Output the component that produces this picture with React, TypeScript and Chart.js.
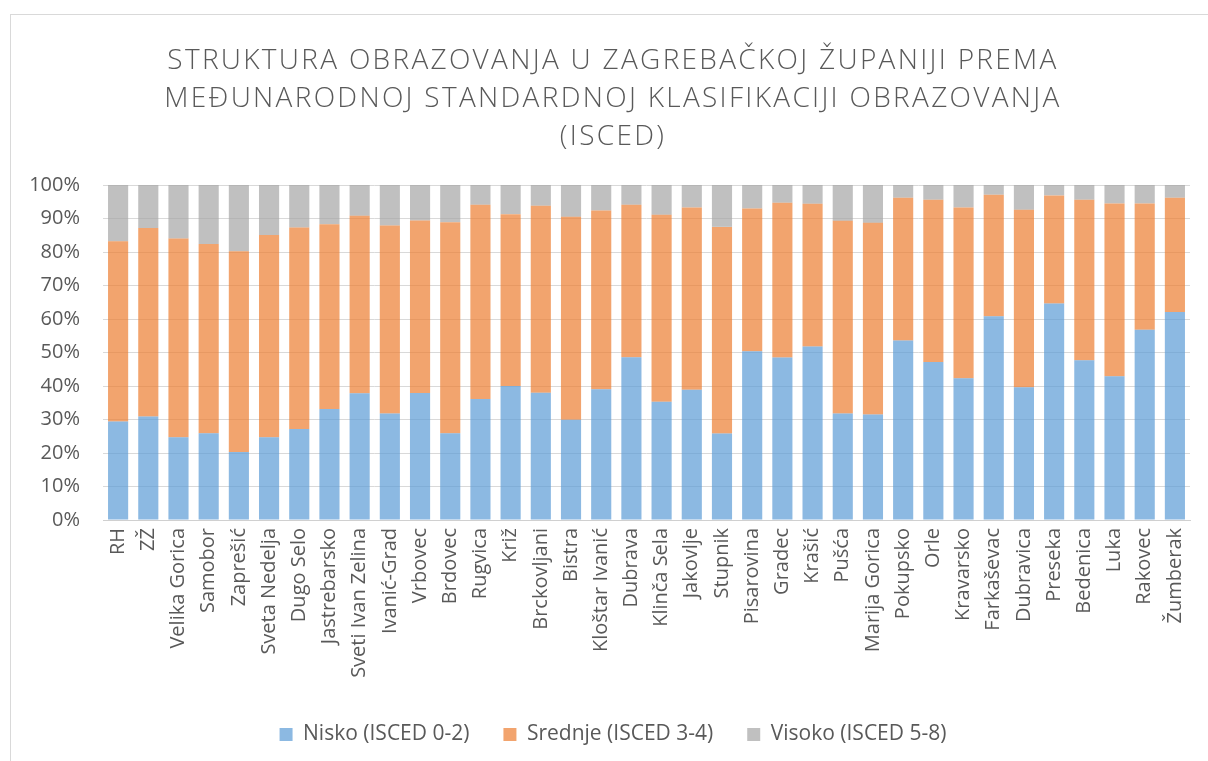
import React, { useEffect, useRef } from "react";
import { Chart, registerables } from "chart.js";

Chart.register(...registerables);

const categories = [
  "RH", "ZŽ", "Velika Gorica", "Samobor", "Zaprešić", "Sveta Nedelja", "Dugo Selo",
  "Jastrebarsko", "Sveti Ivan Zelina", "Ivanić-Grad", "Vrbovec", "Brdovec", "Rugvica",
  "Križ", "Brckovljani", "Bistra", "Kloštar Ivanić", "Dubrava", "Klinča Sela", "Jakovlje",
  "Stupnik", "Pisarovina", "Gradec", "Krašić", "Pušća", "Marija Gorica", "Pokupsko",
  "Orle", "Kravarsko", "Farkaševac", "Dubravica", "Preseka", "Bedenica", "Luka",
  "Rakovec", "Žumberak",
];

const nisko = [
  29.4, 30.9, 24.7, 25.9, 20.3, 24.7, 27.2, 33.1, 37.8, 31.8, 37.9, 25.9, 36.1, 40.0,
  38.0, 29.9, 39.0, 48.6, 35.3, 38.9, 25.8, 50.4, 48.5, 51.8, 31.8, 31.5, 53.6, 47.2,
  42.3, 60.8, 39.6, 64.6, 47.7, 42.9, 56.8, 62.1,
];

const srednje = [
  53.8, 56.3, 59.3, 56.5, 59.9, 60.4, 60.1, 55.2, 53.0, 56.1, 51.5, 63.0, 58.0, 51.3,
  55.8, 60.6, 53.4, 45.5, 55.8, 54.4, 61.7, 42.6, 46.2, 42.6, 57.5, 57.2, 42.6, 48.4,
  51.0, 36.3, 53.0, 32.3, 47.9, 51.6, 37.7, 34.1,
];

const visoko = [
  16.8, 12.8, 16.0, 17.6, 19.8, 14.9, 12.7, 11.7, 9.2, 12.1, 10.6, 11.1, 5.9, 8.7,
  6.2, 9.5, 7.6, 5.9, 8.9, 6.7, 12.5, 7.0, 5.3, 5.6, 10.7, 11.3, 3.8, 4.4,
  6.7, 2.9, 7.4, 3.1, 4.4, 5.5, 5.5, 3.8,
];

const seriesNames = ["Nisko (ISCED 0-2)", "Srednje (ISCED 3-4)", "Visoko (ISCED 5-8)"];
const seriesColors = ["rgba(91,155,213,0.7)", "rgba(237,125,49,0.7)", "rgba(165,165,165,0.7)"];

const titleLines = [
  "STRUKTURA OBRAZOVANJA U ZAGREBAČKOJ ŽUPANIJI PREMA",
  "MEĐUNARODNOJ STANDARDNOJ KLASIFIKACIJI OBRAZOVANJA",
  "(ISCED)",
];

const yTicks = [0, 10, 20, 30, 40, 50, 60, 70, 80, 90, 100];

export default function App() {
  const ref = useRef<HTMLCanvasElement | null>(null);

  useEffect(() => {
    if (!ref.current) return;
    const values = [nisko, srednje, visoko];
    const chart = new Chart(ref.current, {
      type: "bar",
      data: {
        labels: categories,
        datasets: values.map((v, i) => ({
          label: seriesNames[i],
          data: v,
          backgroundColor: seriesColors[i],
          borderWidth: 0,
          barPercentage: 0.667,
          categoryPercentage: 1,
        })),
      },
      options: {
        responsive: false,
        animation: false,
        devicePixelRatio: 1,
        layout: { padding: { left: 0, right: 18, top: 0, bottom: 6 } },
        scales: {
          x: {
            stacked: true,
            grid: { display: false, drawTicks: false },
            border: { display: true, color: "#d0d0d0" },
            ticks: {
              color: "#595959",
              font: { family: "'Open Sans'", size: 20 },
              minRotation: 90,
              maxRotation: 90,
              autoSkip: false,
              padding: 8,
            },
            afterFit: (s: any) => {
              s.height = 170;
            },
          },
          y: {
            stacked: true,
            min: 0,
            max: 100,
            afterBuildTicks: (s: any) => {
              s.ticks = yTicks.map((v) => ({ value: v }));
            },
            grid: { color: "#d9d9d9", drawTicks: false },
            border: { display: false },
            ticks: {
              color: "#595959",
              font: { family: "'Open Sans'", size: 20 },
              padding: 23,
              callback: (v: any) => v + "%",
            },
            afterFit: (s: any) => {
              s.width = 103;
            },
          },
        },
        plugins: {
          title: {
            display: true,
            text: titleLines,
            color: "#595959",
            font: { family: "'Open Sans'", size: 28, weight: "300" as any, lineHeight: 38 / 28 },
            padding: { top: 42, bottom: 29 },
          },
          legend: {
            position: "bottom",
            labels: {
              color: "#595959",
              font: { family: "'Open Sans'", size: 21 },
              boxWidth: 13,
              boxHeight: 13,
              padding: 34,
            },
          },
          tooltip: { enabled: false },
        },
      },
    });
    const shiftDraw = (box: any, spacing: string | null) => {
      if (!box) return;
      const orig = box.draw;
      box.draw = function (...args: any[]) {
        const c = this.ctx as any;
        c.save();
        c.translate(18, 0);
        if (spacing) c.letterSpacing = spacing;
        orig.apply(this, args);
        c.restore();
      };
    };
    shiftDraw((chart as any).titleBlock, "2.3px");
    shiftDraw((chart as any).legend, null);
    chart.draw();
    return () => chart.destroy();
  }, []);

  return (
    <div
      style={{
        position: "absolute",
        left: 0,
        top: 0,
        width: 1208,
        height: 761,
        background: "#fff",
        overflow: "hidden",
      }}
    >
      <div
        style={{
          position: "absolute",
          left: 10,
          top: 14,
          width: 1210,
          height: 760,
          border: "1px solid #d9d9d9",
        }}
      />
      <canvas
        ref={ref}
        width={1208}
        height={761}
        style={{ position: "absolute", left: 0, top: 0, width: 1208, height: 761 }}
      />
    </div>
  );
}
